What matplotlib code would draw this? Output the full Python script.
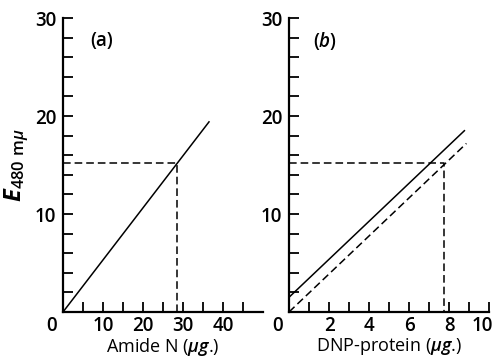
import matplotlib
matplotlib.use('Agg')
from matplotlib import pyplot as plt

plt.rcParams['font.family'] = ['Open Sans', 'DejaVu Sans']
plt.rcParams['font.weight'] = 'semibold'
plt.rcParams['mathtext.fontset'] = 'custom'
plt.rcParams['mathtext.rm'] = 'Open Sans:semibold'
plt.rcParams['mathtext.it'] = 'Open Sans:italic:semibold'
plt.rcParams['mathtext.bf'] = 'Open Sans:bold:italic'

# panel (a): amide N calibration
amide_x = [0, 36.5]
amide_y = [0, 19.4]
amide_read = (28.6, 15.2)

# panel (b): DNP-protein calibration
dnp_solid_x = [0, 8.77]
dnp_solid_y = [1.5, 18.5]
dnp_dash_x = [0, 8.87]
dnp_dash_y = [0, 17.2]
dnp_read = (7.75, 15.2)

y_ticks = list(range(2, 31, 2))
y_labels = [str(t) if t % 10 == 0 else '' for t in y_ticks]
a_ticks = list(range(5, 50, 5))
a_labels = [str(t) if t % 10 == 0 else '' for t in a_ticks]
b_ticks = list(range(1, 11))
b_labels = [str(t) if t % 2 == 0 and t < 10 else '' for t in b_ticks]

fs = 13.5
lw_axis = 1.6
lw_line = 1.1
dash = (0, (5, 2.6))

fig = plt.figure(figsize=(4.98, 3.58), dpi=100)
ax_a = fig.add_axes([63/498, 46/358, 200/498, 294/358])
ax_b = fig.add_axes([289/498, 46/358, 200/498, 294/358])


def corner_label(ax, x, text, dx):
    ax.annotate(text, (x, 0), xytext=(dx, -14), textcoords='offset pixels',
                ha='center', va='center', fontsize=fs, annotation_clip=False)


def style_axes(ax, xmax, xticks, xlabels, xlabel):
    ax.set_xlim(0, xmax)
    ax.set_ylim(0, 30)
    for s in ['top', 'right']:
        ax.spines[s].set_visible(False)
    for s in ['left', 'bottom']:
        ax.spines[s].set_linewidth(lw_axis)
    ax.set_yticks(y_ticks)
    ax.set_yticklabels(y_labels, fontsize=fs)
    ax.set_xticks(xticks)
    ax.set_xticklabels(xlabels, fontsize=fs)
    ax.tick_params(direction='in', length=7, width=1.3, pad=5)
    ax.tick_params(axis='x', pad=3)
    ax.set_xlabel(xlabel, fontsize=13, labelpad=0)
    corner_label(ax, 0, '0', -11)


style_axes(ax_a, 50, a_ticks, a_labels, r'Amide N ($\mu g$.)')
style_axes(ax_b, 10, b_ticks, b_labels, r'DNP-protein ($\mu g$.)')
corner_label(ax_b, 10, '10', -7)

ax_a.plot(amide_x, amide_y, color='black', lw=lw_line)
ax_a.plot([0, amide_read[0], amide_read[0]], [amide_read[1], amide_read[1], 0],
          color='black', lw=lw_line, linestyle=dash)

ax_b.plot(dnp_solid_x, dnp_solid_y, color='black', lw=lw_line)
ax_b.plot(dnp_dash_x, dnp_dash_y, color='black', lw=lw_line, linestyle=dash)
ax_b.plot([0, dnp_read[0], dnp_read[0]], [dnp_read[1], dnp_read[1], 0],
          color='black', lw=lw_line, linestyle=dash)

ax_a.text(9.6, 27.7, '(a)', fontsize=fs, ha='center', va='center')
ax_b.text(1.8, 27.7, '($b$)', fontsize=fs, ha='center', va='center')

ax_a.set_ylabel(r'$\mathbf{E}_{\mathrm{480\ m}\mathit{\mu}}$', fontsize=17)
ax_a.yaxis.set_label_coords(-0.16, 0.5)

plt.savefig('out.png', dpi=100)
